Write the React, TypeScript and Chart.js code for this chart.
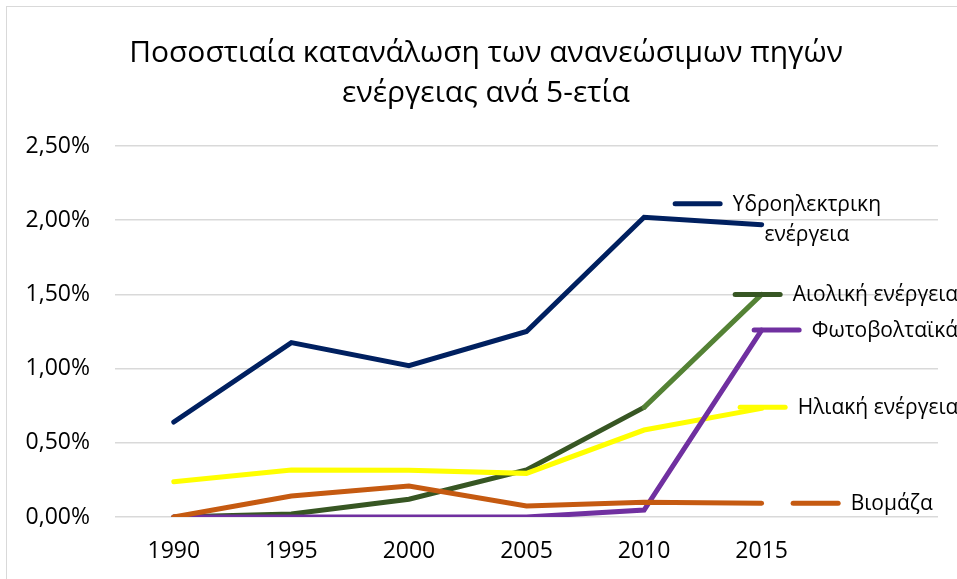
import React, { useEffect, useRef } from 'react';
import { Chart, registerables } from 'chart.js';

Chart.register(...registerables);

const years = ['1990', '1995', '2000', '2005', '2010', '2015', ''];
const titleLines = ['Ποσοστιαία κατανάλωση των ανανεώσιμων πηγών', 'ενέργειας ανά 5-ετία'];
const seriesNames = ['Υδροηλεκτρικη ενέργεια', 'Αιολική ενέργεια', 'Φωτοβολταϊκά', 'Ηλιακή ενέργεια', 'Βιομάζα'];
const labelLines = [['Υδροηλεκτρικη', 'ενέργεια'], ['Αιολική ενέργεια'], ['Φωτοβολταϊκά'], ['Ηλιακή ενέργεια'], ['Βιομάζα']];

const hydro = [0.64, 1.175, 1.02, 1.25, 2.02, 1.97];
const wind = [0, 0.02, 0.12, 0.317, 0.739, 1.5];
const pv = [0, 0, 0, 0, 0.047, 1.26];
const solar = [0.238, 0.317, 0.315, 0.294, 0.586, 0.732];
const biomass = [0, 0.141, 0.209, 0.074, 0.099, 0.092];

const yMin = 0;
const yMax = 2.5;
const yStep = 0.5;

const colors = ['#002060', '#375623', '#7030A0', '#FFFF00', '#C55A11'];
const windLight = '#548235';
// key offset (relative to last data point) for each series label
const labelOffsets = [
  { dx: -89, dy: -21 },
  { dx: -29, dy: 0 },
  { dx: -10, dy: 0 },
  { dx: -24, dy: -1 },
  { dx: 29, dy: 0 },
];

const FONT = "'Open Sans', sans-serif";

const titlePlugin = {
  id: 'customTitle',
  afterDraw(chart: any) {
    const ctx = chart.ctx;
    ctx.save();
    ctx.fillStyle = '#000000';
    ctx.font = `30px ${FONT}`;
    ctx.textAlign = 'center';
    ctx.textBaseline = 'alphabetic';
    const cx = chart.width / 2;
    ctx.fillText(titleLines[0], cx, 55);
    ctx.fillText(titleLines[1], cx, 95);
    ctx.restore();
  },
};

const seriesLabelPlugin = {
  id: 'seriesLabels',
  afterDatasetsDraw(chart: any) {
    const ctx = chart.ctx;
    ctx.save();
    chart.data.datasets.forEach((ds: any, i: number) => {
      const meta = chart.getDatasetMeta(i);
      const pt = meta.data[5];
      if (!pt) return;
      const off = labelOffsets[i];
      const x0 = pt.x + off.dx;
      const y0 = pt.y + off.dy;
      ctx.strokeStyle = colors[i];
      ctx.lineWidth = 5;
      ctx.lineCap = 'round';
      ctx.beginPath();
      ctx.moveTo(x0 + 2.5, y0);
      ctx.lineTo(x0 + 47.5, y0);
      ctx.stroke();
      ctx.fillStyle = '#000000';
      ctx.font = `21px ${FONT}`;
      ctx.textBaseline = 'middle';
      const lines = labelLines[i];
      const tx = x0 + 60;
      if (lines.length === 1) {
        ctx.textAlign = 'left';
        ctx.fillText(lines[0], tx, y0 + 1);
      } else {
        const w0 = ctx.measureText(lines[0]).width;
        const c = tx + w0 / 2;
        ctx.textAlign = 'center';
        lines.forEach((l: string, k: number) => ctx.fillText(l, c, y0 + 1 + k * 30));
      }
    });
    ctx.restore();
  },
};

export default function App() {
  const ref = useRef<HTMLCanvasElement | null>(null);
  useEffect(() => {
    if (!ref.current) return;
    const allData = [hydro, wind, pv, solar, biomass];
    const orders = [5, 4, 2, 3, 1];
    const chart = new Chart(ref.current, {
      type: 'line',
      data: {
        labels: years,
        datasets: allData.map((d, i) => ({
          label: seriesNames[i],
          data: d,
          borderColor: colors[i],
          backgroundColor: colors[i],
          borderWidth: 5,
          borderCapStyle: 'round',
          borderJoinStyle: 'miter',
          pointRadius: 0,
          pointHoverRadius: 0,
          tension: 0,
          fill: false,
          order: orders[i],
          segment: i === 1 ? { borderColor: (c: any) => (c.p0DataIndex === 4 ? windLight : colors[1]) } : undefined,
        })),
      },
      options: {
        responsive: false,
        animation: false,
        layout: { padding: { left: 0, right: 27, top: 139, bottom: 0 } },
        plugins: { legend: { display: false }, title: { display: false }, tooltip: { enabled: false } },
        scales: {
          x: {
            offset: true,
            grid: { display: false, drawTicks: false },
            border: { display: false },
            ticks: { color: '#000000', font: { family: FONT, size: 23 }, padding: 21, maxRotation: 0, autoSkip: false },
            afterFit: (s: any) => { s.height = 88; },
          },
          y: {
            min: yMin,
            max: yMax,
            grid: { color: '#d9d9d9', lineWidth: 1.5, drawTicks: false },
            border: { display: false },
            ticks: {
              stepSize: yStep,
              color: '#000000',
              font: { family: FONT, size: 23 },
              padding: 25,
              callback: (v: any) => Number(v).toFixed(2).replace('.', ',') + '%',
            },
            afterFit: (s: any) => { s.width = 108; },
          },
        },
      },
      plugins: [titlePlugin, seriesLabelPlugin],
    } as any);
    return () => chart.destroy();
  }, []);
  return (
    <div
      style={{
        position: 'fixed',
        left: 6,
        top: 6,
        width: 960,
        height: 600,
        border: '1px solid #d9d9d9',
        boxSizing: 'border-box',
        background: '#ffffff',
        overflow: 'hidden',
      }}
    >
      <canvas ref={ref} width={958} height={598} style={{ display: 'block' }} />
    </div>
  );
}
